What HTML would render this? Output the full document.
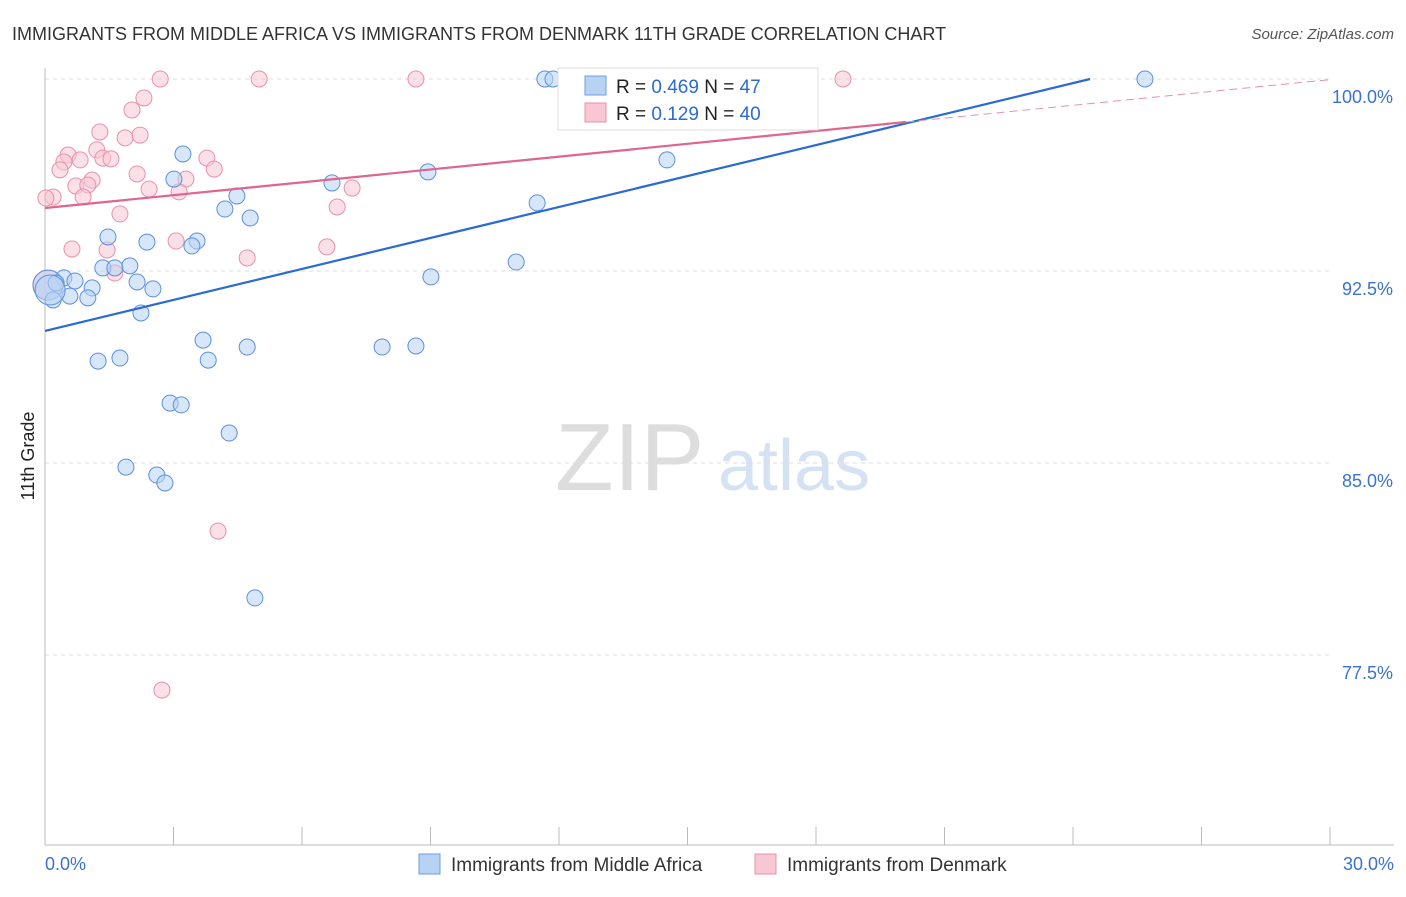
<!DOCTYPE html>
<html><head><meta charset="utf-8"><style>
body{margin:0;background:#fff;font-family:"Liberation Sans",sans-serif;}
svg text{font-family:"Liberation Sans",sans-serif;}
</style></head><body>
<svg id="c" width="1406" height="892">
<text x="12" y="40" font-size="18" fill="#333">IMMIGRANTS FROM MIDDLE AFRICA VS IMMIGRANTS FROM DENMARK 11TH GRADE CORRELATION CHART</text>
<text x="1394" y="39" font-size="15" fill="#555" font-style="italic" text-anchor="end">Source: ZipAtlas.com</text>
<text x="34" y="456" font-size="18" fill="#222" text-anchor="middle" transform="rotate(-90 34 456)">11th Grade</text>
<text x="555" y="490" font-size="96" fill="#ddd" font-family="Liberation Serif">ZIP</text>
<text x="718" y="490" font-size="72" fill="#d4e2f4">atlas</text>
<g id="grid"></g><g id="axes"></g><g id="pts"></g><g id="lines"></g>
<g>
<rect x="558" y="68" width="260" height="62" fill="#fff" stroke="#ddd"/>
<rect x="585" y="76" width="21" height="19" fill="#b8d2f4" stroke="#6d9fe0"/>
<rect x="585" y="103" width="21" height="19" fill="#f9c6d4" stroke="#e890aa"/>
<text x="616" y="93" font-size="19" fill="#222">R = <tspan fill="#2a6ad4">0.469</tspan>   N = <tspan fill="#2a6ad4">47</tspan></text>
<text x="616" y="120" font-size="19" fill="#222">R =  <tspan fill="#2a6ad4">0.129</tspan>   N = <tspan fill="#2a6ad4">40</tspan></text>
</g>
<g>
<rect x="419" y="854" width="21" height="20" fill="#b8d2f4" stroke="#6d9fe0"/>
<text x="451" y="871" font-size="19" fill="#333">Immigrants from Middle Africa</text>
<rect x="755" y="854" width="21" height="20" fill="#f9c6d4" stroke="#e890aa"/>
<text x="787" y="871" font-size="19" fill="#333">Immigrants from Denmark</text>
</g>
</svg>
<script>
const yTicks=[100,92.5,85,77.5];
const yTickLabels=["100.0%","92.5%","85.0%","77.5%"];
const xEndLabels=["0.0%","30.0%"];
const blueX=[11.67,11.86,25.68,3.22,14.52,8.94,3.01,6.70,4.48,4.20,4.79,11.49,1.47,2.38,3.55,3.43,1.35,1.98,1.63,11.0,9.01,0.44,0.70,2.15,0.07,0.26,1.10,2.52,0.58,1.0,0.19,2.24,3.69,4.72,7.87,8.66,1.24,1.75,3.81,2.92,3.18,4.30,1.89,2.61,2.80,4.90,0.12];
const blueY=[100,100,100,97.07,96.84,96.37,96.09,95.94,95.43,94.92,94.57,95.16,93.83,93.63,93.67,93.48,92.62,92.70,92.62,92.85,92.27,92.23,92.11,92.07,91.95,92.03,91.84,91.80,91.52,91.45,91.37,90.86,89.80,89.53,89.53,89.57,88.98,89.10,89.02,87.34,87.27,86.17,84.84,84.53,84.22,79.73,91.76];
const pinkX=[2.69,5.0,8.66,18.63,2.31,2.03,1.28,1.87,2.22,1.21,0.54,0.44,0.82,1.35,1.54,3.78,0.35,3.95,2.15,1.10,3.29,0.72,1.0,2.43,3.13,7.17,0.19,0.89,0.02,1.75,6.82,0.63,1.45,3.06,6.58,4.72,1.63,4.04,2.73,0.07];
const pinkY=[100,100,100,100,99.26,98.79,97.93,97.70,97.81,97.23,97.03,96.76,96.84,96.91,96.88,96.91,96.45,96.48,96.29,96.05,96.09,95.82,95.86,95.70,95.59,95.74,95.39,95.39,95.35,94.73,95.0,93.36,93.32,93.67,93.44,93.01,92.42,82.34,76.13,91.95];
const blueTrend=[90.16,0.4033];
const pinkTrend=[94.96,0.1672];
const NS="http://www.w3.org/2000/svg";
const X=v=>45+v*(1330-45)/30;
const Y=v=>79+(100-v)*25.6;
function mk(tag,at,parent){const e=document.createElementNS(NS,tag);for(const k in at)e.setAttribute(k,at[k]);document.getElementById(parent).appendChild(e);return e;}
yTicks.forEach((t,i)=>{
 const l=mk('line',{x1:45,x2:1330,y1:Y(t),y2:Y(t),stroke:'#ddd','stroke-dasharray':'4,4'},'grid');
 
 
 const tx=mk('text',{x:1393,y:Y(t)+24,'font-size':18,fill:'#3a72cf','text-anchor':'end'},'grid');
 tx.textContent=yTickLabels[i];
 
 
});
const ax=mk('line',{x1:45,x2:1394,y1:845,y2:845,stroke:'#bbb'},'axes');


const ay=mk('line',{x1:45,x2:45,y1:68,y2:845,stroke:'#bbb'},'axes');


for(let i=1;i<=10;i++){const t=mk('line',{x1:X(i*3),x2:X(i*3),y1:827,y2:845,stroke:'#bbb'},'axes');
 
 }
[[0,'start',45],[30,'end',1394]].forEach((d,i)=>{const t=mk('text',{x:d[2],y:870,'font-size':18,fill:'#3a72cf','text-anchor':d[1]},'axes');t.textContent=xEndLabels[i];
 
 });
function pts(xs,ys,fill,stroke,name){xs.forEach((x,i)=>{const big=(x<0.15&&ys[i]>91.5&&ys[i]<92);
 const c=mk('circle',{cx:X(x),cy:Y(ys[i]),r:big?15:8,fill:fill,'fill-opacity':0.55,stroke:stroke,'stroke-width':1},'pts');
 
 });}
pts(pinkX,pinkY,'#f9c6d4','#e890aa','point-denmark');
pts(blueX,blueY,'#b8d2f4','#5a90dc','point-middle-africa');
const bEnd=(100-blueTrend[0])/blueTrend[1];
const bl=mk('line',{x1:X(0),y1:Y(blueTrend[0]),x2:X(bEnd),y2:Y(100),stroke:'#2a6ad4','stroke-width':2.2},'lines');


const pl=mk('line',{x1:X(0),y1:Y(pinkTrend[0]),x2:X(20.1),y2:Y(pinkTrend[0]+pinkTrend[1]*20.1),stroke:'#e0648e','stroke-width':2.2},'lines');


const pd=mk('line',{x1:X(20.1),y1:Y(pinkTrend[0]+pinkTrend[1]*20.1),x2:X(30),y2:Y(pinkTrend[0]+pinkTrend[1]*30),stroke:'#e890aa','stroke-width':1,'stroke-dasharray':'8,5'},'lines');


</script>
</body></html>
